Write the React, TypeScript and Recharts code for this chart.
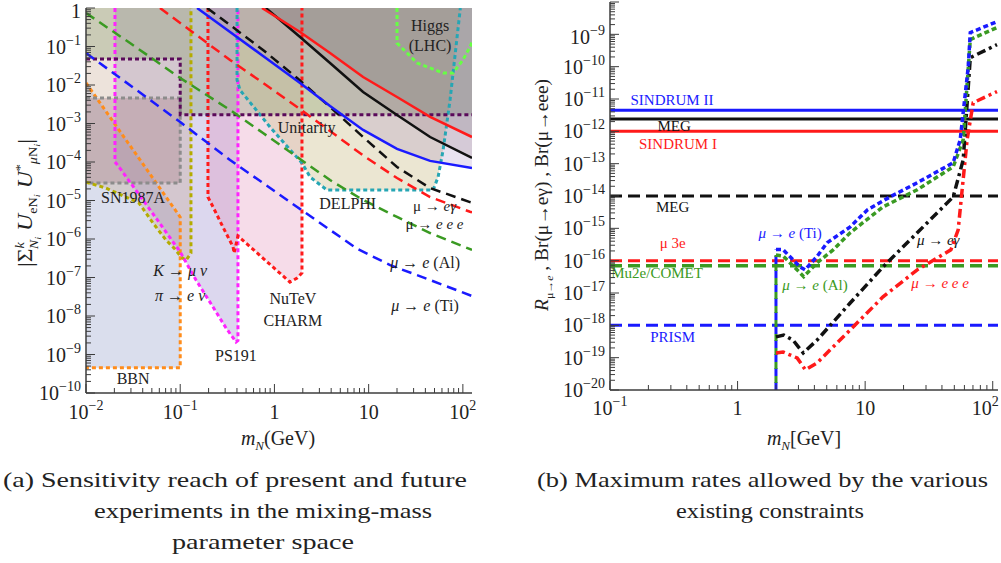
import React from 'react';
import { ComposedChart, Line, Area, XAxis, YAxis, ReferenceLine, Scatter } from 'recharts';

type P = { x: number; y: number };

// ================= Panel (a): mixing vs. mass =================
const bbnEdge: P[] = [{ x: 0.01, y: 0.0113 }, { x: 0.1, y: 3.7e-6 }];
const bbnFloor = 4.5e-10;
const ps191Edge: P[] = [
  { x: 0.0203, y: 1e-4 }, { x: 0.022, y: 7.9e-5 }, { x: 0.0514, y: 4.5e-6 }, { x: 0.1, y: 4.6e-7 },
  { x: 0.147, y: 8.6e-8 }, { x: 0.223, y: 1.71e-8 }, { x: 0.306, y: 4.9e-9 }, { x: 0.391, y: 2.11e-9 },
  { x: 0.41, y: 2.3e-9 },
];
const snX = [0.01, 0.1];
const snY = [2.85e-5, 4.6e-3];
const kpiEdge: P[] = [
  { x: 0.01, y: 3.0e-5 }, { x: 0.0163, y: 2.1e-5 }, { x: 0.0365, y: 8.6e-6 }, { x: 0.0514, y: 2.6e-6 },
  { x: 0.0707, y: 9.4e-7 }, { x: 0.086, y: 5.8e-7 }, { x: 0.1024, y: 3.4e-7 }, { x: 0.115, y: 2.8e-7 },
  { x: 0.13, y: 4.3e-7 },
];
const unitarityEdge: P[] = [{ x: 0.01, y: 0.0473 }, { x: 0.1, y: 0.0473 }, { x: 0.1, y: 0.0017 }, { x: 125, y: 0.0017 }];
const nutevEdge: P[] = [
  { x: 0.197, y: 1.23e-5 }, { x: 0.223, y: 6.8e-6 }, { x: 0.284, y: 2.05e-6 }, { x: 0.364, y: 6.2e-7 },
  { x: 0.373, y: 4.3e-7 }, { x: 0.41, y: 1.2e-6 }, { x: 1.46, y: 7.6e-8 }, { x: 1.74, y: 9.7e-8 },
  { x: 1.96, y: 1.31e-7 },
];
const delphiEdge: P[] = [
  { x: 0.401, y: 0.0135 }, { x: 0.431, y: 7.4e-3 }, { x: 0.898, y: 8.1e-4 }, { x: 1.96, y: 9.4e-5 },
  { x: 2.39, y: 4.07e-5 }, { x: 3.61, y: 1.87e-5 }, { x: 48.3, y: 1.87e-5 }, { x: 54.6, y: 4.07e-5 },
  { x: 61.7, y: 2.05e-4 }, { x: 73.1, y: 4.07e-3 }, { x: 94, y: 1 },
];
const higgsEdge: P[] = [
  { x: 20, y: 1 }, { x: 20, y: 0.123 }, { x: 32.7, y: 0.0373 }, { x: 61.7, y: 0.0205 },
  { x: 78.7, y: 0.0205 }, { x: 100, y: 0.0446 }, { x: 119, y: 0.097 }, { x: 125, y: 0.13 },
];
const blueSolidA: P[] = [
  { x: 0.151, y: 1 }, { x: 0.338, y: 0.238 }, { x: 0.757, y: 0.0567 }, { x: 1.87, y: 0.0113 },
  { x: 3.89, y: 2.84e-3 }, { x: 8.73, y: 6.8e-4 }, { x: 20, y: 2.19e-4 }, { x: 44.9, y: 1.07e-4 }, { x: 125, y: 7.0e-5 },
];
const blackSolidA: P[] = [
  { x: 0.81, y: 1 }, { x: 1.147, y: 0.488 }, { x: 1.87, y: 0.176 }, { x: 3.89, y: 0.0373 },
  { x: 8.73, y: 6.6e-3 }, { x: 20, y: 1.66e-3 }, { x: 44.9, y: 4.46e-4 }, { x: 125, y: 1.27e-4 },
];
const redSolidA: P[] = [
  { x: 0.738, y: 1 }, { x: 1.87, y: 0.238 }, { x: 3.89, y: 0.0678 }, { x: 8.73, y: 0.0161 },
  { x: 20, y: 4.88e-3 }, { x: 44.9, y: 1.48e-3 }, { x: 125, y: 4.46e-4 },
];
const megFutureA: P[] = [
  { x: 0.193, y: 1 }, { x: 0.338, y: 0.361 }, { x: 0.757, y: 0.0812 }, { x: 1.74, y: 0.0152 },
  { x: 3.89, y: 2.68e-3 }, { x: 8.73, y: 4.46e-4 }, { x: 20, y: 7.41e-5 }, { x: 44.9, y: 2.1e-5 },
  { x: 119, y: 9.1e-6 }, { x: 125, y: 8.8e-6 },
];
const mu3eFutureA: P[] = [
  { x: 0.061, y: 1 }, { x: 0.338, y: 0.0446 }, { x: 0.757, y: 0.0113 }, { x: 1.74, y: 2.68e-3 },
  { x: 3.89, y: 6.4e-4 }, { x: 8.73, y: 1.48e-4 }, { x: 20, y: 3.83e-5 }, { x: 44.9, y: 1.23e-5 },
  { x: 119, y: 5.1e-6 }, { x: 125, y: 4.9e-6 },
];
const alFutureA: P[] = [
  { x: 0.01, y: 0.741 }, { x: 0.0293, y: 0.123 }, { x: 0.1, y: 0.0152 }, { x: 0.338, y: 2.24e-3 },
  { x: 0.757, y: 5.66e-4 }, { x: 1.74, y: 1.35e-4 }, { x: 3.89, y: 3.4e-5 }, { x: 8.73, y: 1.03e-5 },
  { x: 20, y: 3.73e-6 }, { x: 44.9, y: 1.43e-6 }, { x: 125, y: 5.2e-7 },
];
const tiFutureA: P[] = [
  { x: 0.01, y: 0.0678 }, { x: 0.1, y: 1.09e-3 }, { x: 0.338, y: 1.13e-4 }, { x: 1.74, y: 6.8e-6 },
  { x: 7.53, y: 5.6e-7 }, { x: 16.9, y: 2.1e-7 }, { x: 44.9, y: 8.6e-8 }, { x: 125, y: 3.3e-8 },
];
const leftNotes = [
  { x: 44.9, y: 0.36, text: 'Higgs' }, { x: 44.9, y: 0.11, text: '(LHC)' },
  { x: 2.2, y: 8.1e-4, text: 'Unitarity' }, { x: 6.0, y: 8.6e-6, text: 'DELPHI' },
  { x: 39.7, y: 2.5e-7, text: '*μ* → *e* (Al)' }, { x: 39.7, y: 1.93e-8, text: '*μ* → *e* (Ti)' },
  { x: 1.57, y: 2.9e-8, text: 'NuTeV' }, { x: 1.57, y: 7.9e-9, text: 'CHARM' },
  { x: 0.39, y: 9.7e-10, text: 'PS191' }, { x: 0.0316, y: 2.45e-10, text: 'BBN' },
  { x: 0.0316, y: 1.23e-5, text: 'SN1987A' },
  { x: 0.1, y: 1.57e-7, text: '*K* → *μ ν*' }, { x: 0.1, y: 3.5e-8, text: '*π* → *e ν*' },
];
const leftNotesSmall = [
  { x: 50, y: 7.2e-6, text: 'μ → *eγ*' }, { x: 50, y: 2.45e-6, text: 'μ → *e e e*' },
];

// ================= Panel (b): maximum rates =================
const sindrum2 = 4.5e-12;
const megNow = 2.4e-12;
const sindrum1 = 1e-12;
const megFuture = 1e-14;
const mu3e = 1e-16;
const mu2e = 7e-17;
const prism = 1e-18;
const thresholdMass = 2;
const tiCurve: P[] = [
  { x: 2, y: 2.2e-16 }, { x: 2.27, y: 2.2e-16 }, { x: 3.09, y: 6.4e-17 }, { x: 3.38, y: 5.2e-17 },
  { x: 4.2, y: 1.36e-16 }, { x: 5.04, y: 3.6e-16 }, { x: 7.63, y: 1.11e-15 }, { x: 10.4, y: 3.7e-15 },
  { x: 15.7, y: 9.4e-15 }, { x: 25.6, y: 2.57e-14 }, { x: 49, y: 1.07e-13 }, { x: 55.6, y: 5.5e-13 },
  { x: 64.3, y: 1e-10 }, { x: 66.7, y: 1.13e-9 }, { x: 108, y: 2.47e-9 },
];
const alCurve: P[] = [
  { x: 2, y: 1.5e-16 }, { x: 2.27, y: 1.4e-16 }, { x: 3.09, y: 4.2e-17 }, { x: 3.3, y: 3.2e-17 },
  { x: 4.2, y: 8.6e-17 }, { x: 5.61, y: 2.16e-16 }, { x: 7.63, y: 7.3e-16 }, { x: 13.8, y: 4.6e-15 },
  { x: 25.6, y: 1.56e-14 }, { x: 49, y: 8.0e-14 }, { x: 58.7, y: 5.5e-13 }, { x: 66.7, y: 6.9e-10 },
  { x: 108, y: 1.63e-9 },
];
const egCurve: P[] = [
  { x: 2, y: 4.4e-19 }, { x: 2.3, y: 5.0e-19 }, { x: 2.72, y: 3.5e-19 }, { x: 3.27, y: 1.4e-19 },
  { x: 4.2, y: 3.5e-19 }, { x: 7.63, y: 4.9e-18 }, { x: 13.8, y: 6.4e-17 }, { x: 25.6, y: 7.3e-16 },
  { x: 49, y: 9.4e-15 }, { x: 58.7, y: 1.32e-13 }, { x: 66.7, y: 1.9e-10 }, { x: 108, y: 4.8e-10 },
];
const eeeCurve: P[] = [
  { x: 2, y: 1.4e-19 }, { x: 2.27, y: 1.5e-19 }, { x: 2.93, y: 9.8e-20 }, { x: 3.4, y: 4.2e-20 },
  { x: 4.2, y: 6.9e-20 }, { x: 7.63, y: 7.2e-19 }, { x: 13.8, y: 7.6e-18 }, { x: 25.6, y: 5.2e-17 },
  { x: 47, y: 2.16e-16 }, { x: 53.6, y: 9e-16 }, { x: 63, y: 5.5e-13 }, { x: 70.3, y: 7.7e-12 },
  { x: 108, y: 1.7e-11 },
];
const blueNotesB = [
  { x: 0.306, y: 9.5e-12, text: 'SINDRUM II' }, { x: 0.31, y: 4.4e-19, text: 'PRISM' },
  { x: 2.58, y: 7.3e-16, text: '*μ* → *e* (Ti)' },
];
const blackNotesB = [
  { x: 0.318, y: 1.5e-12, text: 'MEG' }, { x: 0.31, y: 4.6e-15, text: 'MEG' },
  { x: 37.4, y: 4.4e-16, text: '*μ* → *eγ*' },
];
const redNotesB = [
  { x: 0.341, y: 4.1e-13, text: 'SINDRUM I' }, { x: 0.31, y: 3.6e-16, text: 'μ 3e' },
  { x: 38.7, y: 2.06e-17, text: '*μ* → *e e e*' },
];
const greenNotesB = [
  { x: 0.234, y: 4.2e-17, text: 'Mu2e/COMET' }, { x: 4.05, y: 1.8e-17, text: '*μ* → *e* (Al)' },
];

// ================= helpers =================
const SERIF = '"Liberation Serif", "Times New Roman", serif';
const AXIS = '#3c3c3c';

const logTicks = (lo: number, hi: number) => {
  const out: number[] = [];
  for (let e = lo; e < hi; e++) for (let k = 1; k <= 9; k++) out.push(k * Math.pow(10, e));
  out.push(Math.pow(10, hi));
  return out;
};
const isMajor = (v: number) => Math.abs(Math.log10(v) - Math.round(Math.log10(v))) < 1e-6;
const powText = (v: number) => {
  const e = Math.round(Math.log10(v));
  if (e === 0) return <>1</>;
  if (e === 1) return <>10</>;
  return (
    <>
      10<tspan dy={-9} fontSize={14}>{e < 0 ? '\u2212' + -e : String(e)}</tspan>
    </>
  );
};

const bottomTick = (labelDy: number, endAt?: number) => (p: any) => {
  const v = p.payload.value;
  const M = isMajor(v);
  const atEnd = endAt !== undefined && Math.abs(v - endAt) < 1e-9 * endAt;
  return (
    <g>
      <line x1={p.x} x2={p.x} y1={p.y} y2={p.y - (M ? 9 : 5)} stroke={AXIS} strokeWidth={1} />
      {M && (
        <text x={atEnd ? p.x + 6 : p.x} y={p.y + labelDy} textAnchor={atEnd ? 'end' : 'middle'}
          fontFamily={SERIF} fontSize={20} fill="#222">
          {powText(v)}
        </text>
      )}
    </g>
  );
};
const topTick = (p: any) => {
  const M = isMajor(p.payload.value);
  return <line x1={p.x} x2={p.x} y1={p.y} y2={p.y + (M ? 9 : 5)} stroke={AXIS} strokeWidth={1} />;
};
const leftTick = (maxLabel: number) => (p: any) => {
  const v = p.payload.value;
  const M = isMajor(v);
  const atTop = Math.abs(v - maxLabel) < 1e-6 * maxLabel;
  return (
    <g>
      <line x1={p.x} x2={p.x + (M ? 9 : 5)} y1={p.y} y2={p.y} stroke={AXIS} strokeWidth={1} />
      {M && v <= maxLabel * 1.0001 && (
        <text x={p.x - 5} y={p.y + (atTop ? 10 : 7)} textAnchor="end" fontFamily={SERIF} fontSize={20} fill="#222">
          {powText(v)}
        </text>
      )}
    </g>
  );
};
const rightTick = (p: any) => {
  const M = isMajor(p.payload.value);
  return <line x1={p.x} x2={p.x - (M ? 9 : 5)} y1={p.y} y2={p.y} stroke={AXIS} strokeWidth={1} />;
};

const rich = (s: string) =>
  s.split('*').map((seg, i) => (
    <tspan key={i} fontStyle={i % 2 === 1 ? 'italic' : 'normal'}>
      {seg}
    </tspan>
  ));
const noteShape = (color: string, size: number) => (p: any) => (
  <text x={p.cx} y={p.cy} dy="0.35em" textAnchor="middle" fontFamily={SERIF} fontSize={size} fill={color}>
    {rich(p.payload.text)}
  </text>
);

const above = (edge: P[], top: number) => edge.map((p) => ({ x: p.x, r: [p.y, top] }));
const belowEdge = (edge: P[], floor: number) => edge.map((p) => ({ x: p.x, r: [floor, p.y] }));
const capTop = (edge: P[], top: number) => [{ x: edge[0].x, y: top }, ...edge, { x: edge[edge.length - 1].x, y: top }];

const fillArea = (key: string, data: any[], color: string, opacity: number) => (
  <Area key={key} data={data} dataKey="r" type="linear" stroke="none" fill={color} fillOpacity={opacity}
    dot={false} activeDot={false} isAnimationActive={false} />
);
const pathLine = (key: string, data: P[], color: string, width: number, dash?: string) => (
  <Line key={key} data={data} dataKey="y" type="linear" stroke={color} strokeWidth={width} strokeDasharray={dash}
    dot={false} activeDot={false} isAnimationActive={false} />
);

const DOT = '4 3';
const DASH = '10 6';

// ================= charts =================
function PanelA() {
  const xT = logTicks(-2, 2);
  const yT = logTicks(-10, 0);
  const xd: [number, number] = [0.01, 125];
  const yd: [number, number] = [1e-10, 1];
  const top = 1;
  const snBand = snX.map((x) => ({ x, r: [snY[0], snY[1]] }));
  const snOutline: P[] = [
    { x: snX[0], y: snY[1] }, { x: snX[1], y: snY[1] }, { x: snX[1], y: snY[0] }, { x: snX[0], y: snY[0] },
  ];
  return (
    <ComposedChart width={480} height={442} margin={{ top: 18, right: 8, bottom: 12, left: 0 }}>
      <XAxis dataKey="x" type="number" scale="log" domain={xd} allowDataOverflow ticks={xT} interval={0}
        tickSize={0} tickMargin={0} tickLine={false} height={27} tick={bottomTick(26)}
        axisLine={{ stroke: AXIS, strokeWidth: 1.5 }} />
      <XAxis xAxisId="top" orientation="top" dataKey="x" type="number" scale="log" domain={xd} allowDataOverflow
        ticks={xT} interval={0} tickSize={0} tickMargin={0} tickLine={false} height={0} tick={topTick}
        axisLine={{ stroke: AXIS, strokeWidth: 1.5 }} />
      <YAxis dataKey="y" type="number" scale="log" domain={yd} allowDataOverflow ticks={yT} interval={0}
        tickSize={0} tickMargin={0} tickLine={false} width={86} tick={leftTick(1)}
        axisLine={{ stroke: AXIS, strokeWidth: 1.5 }} />
      <YAxis yAxisId="right" orientation="right" dataKey="y" type="number" scale="log" domain={yd} allowDataOverflow
        ticks={yT} interval={0} tickSize={0} tickMargin={0} tickLine={false} width={0} tick={rightTick}
        axisLine={{ stroke: AXIS, strokeWidth: 1.5 }} />

      {fillArea('bbnF', belowEdge(bbnEdge, bbnFloor), '#b6bedc', 0.5)}
      {fillArea('psF', above(ps191Edge, top), '#a89cd4', 0.4)}
      {fillArea('snF', snBand, '#9a6a86', 0.33)}
      {fillArea('kpiF', above(kpiEdge, top), '#c3a287', 0.3)}
      {fillArea('nuF', above(nutevEdge, top), '#e08cb6', 0.3)}
      {fillArea('delF', above(delphiEdge, top), '#d2c89c', 0.45)}
      {fillArea('uniF', above(unitarityEdge, top), '#7b9661', 0.3)}
      {fillArea('blueF', above(blueSolidA, top), '#9c7cbc', 0.22)}
      {fillArea('blackF', above(blackSolidA, top), '#7c5c6c', 0.18)}
      {fillArea('redF', above(redSolidA, top), '#6c6c6c', 0.2)}

      {pathLine('bbnL', [...bbnEdge, { x: 0.1, y: bbnFloor }, { x: 0.01, y: bbnFloor }], '#ff8c1a', 3, DOT)}
      {pathLine('snL', snOutline, '#8c8c8c', 3, DOT)}
      {pathLine('kpiL', [...kpiEdge, { x: kpiEdge[kpiEdge.length - 1].x, y: top }], '#b4ac00', 3, DOT)}
      {pathLine('psL', capTop(ps191Edge, top), '#ff22ff', 3, DOT)}
      {pathLine('nuL', capTop(nutevEdge, top), '#ff1a1a', 3, DOT)}
      {pathLine('delL', [{ x: delphiEdge[0].x, y: top }, ...delphiEdge], '#26a6b4', 3, DOT)}
      {pathLine('uniL', unitarityEdge, '#5a0a5a', 3, DOT)}
      {pathLine('higgsL', higgsEdge, '#66ff44', 3, DOT)}

      {pathLine('alL', alFutureA, '#3a9a22', 2.5, DASH)}
      {pathLine('tiL', tiFutureA, '#1a1aff', 2.5, DASH)}
      {pathLine('m3L', mu3eFutureA, '#ff1a1a', 2.5, DASH)}
      {pathLine('megFL', megFutureA, '#111', 2.5, DASH)}
      {pathLine('blueS', blueSolidA, '#1a1aff', 2.5)}
      {pathLine('blackS', blackSolidA, '#111', 2.5)}
      {pathLine('redS', redSolidA, '#ff1a1a', 2.5)}

      <Scatter data={leftNotes} dataKey="y" shape={noteShape('#222', 16)} isAnimationActive={false} />
      <Scatter data={leftNotesSmall} dataKey="y" shape={noteShape('#222', 15)} isAnimationActive={false} />
    </ComposedChart>
  );
}

function PanelB() {
  const xT = logTicks(-1, 2);
  const yT = logTicks(-20, -8);
  const xd: [number, number] = [0.1, 110];
  const yd: [number, number] = [1e-20, 1e-8];
  const floor = 1e-20;
  return (
    <ComposedChart width={481} height={442} margin={{ top: 12, right: 3, bottom: 12, left: 0 }}>
      <XAxis dataKey="x" type="number" scale="log" domain={xd} allowDataOverflow ticks={xT} interval={0}
        tickSize={0} tickMargin={0} tickLine={false} height={30} tick={bottomTick(25, 100)}
        axisLine={{ stroke: AXIS, strokeWidth: 1.5 }} />
      <XAxis xAxisId="top" orientation="top" dataKey="x" type="number" scale="log" domain={xd} allowDataOverflow
        ticks={xT} interval={0} tickSize={0} tickMargin={0} tickLine={false} height={0} tick={topTick}
        axisLine={{ stroke: AXIS, strokeWidth: 1.5 }} />
      <YAxis dataKey="y" type="number" scale="log" domain={yd} allowDataOverflow ticks={yT} interval={0}
        tickSize={0} tickMargin={0} tickLine={false} width={90} tick={leftTick(1e-9)}
        axisLine={{ stroke: AXIS, strokeWidth: 1.5 }} />
      <YAxis yAxisId="right" orientation="right" dataKey="y" type="number" scale="log" domain={yd} allowDataOverflow
        ticks={yT} interval={0} tickSize={0} tickMargin={0} tickLine={false} width={0} tick={rightTick}
        axisLine={{ stroke: AXIS, strokeWidth: 1.5 }} />

      <ReferenceLine y={prism} stroke="#1a1aff" strokeWidth={3} strokeDasharray="12 6" />
      <ReferenceLine y={mu2e} stroke="#3a9a22" strokeWidth={3.5} strokeDasharray="12 6" />
      <ReferenceLine y={mu3e} stroke="#ff1a1a" strokeWidth={3} strokeDasharray="12 6" />
      <ReferenceLine y={megFuture} stroke="#111" strokeWidth={3} strokeDasharray="12 6" />
      <ReferenceLine y={sindrum1} stroke="#ff1a1a" strokeWidth={3} />
      <ReferenceLine y={megNow} stroke="#111" strokeWidth={3} />
      <ReferenceLine y={sindrum2} stroke="#1a1aff" strokeWidth={3} />

      {pathLine('vB', [{ x: thresholdMass, y: floor }, { x: thresholdMass, y: tiCurve[0].y }], '#1a1aff', 3, '8 6')}
      {pathLine('vG', [{ x: thresholdMass, y: floor }, { x: thresholdMass, y: alCurve[0].y }], '#3a9a22', 3, '0 7 7 0')}
      {pathLine('eee', eeeCurve, '#ff1a1a', 3.5, '9 4 3 4')}
      {pathLine('eg', egCurve, '#111', 3.5, '9 4 3 4')}
      {pathLine('al', alCurve, '#3a9a22', 3.5, '5 3')}
      {pathLine('ti', tiCurve, '#1a1aff', 3.5, '5 3')}

      <Scatter data={blueNotesB} dataKey="y" shape={noteShape('#1a1aff', 15)} isAnimationActive={false} />
      <Scatter data={blackNotesB} dataKey="y" shape={noteShape('#111', 15)} isAnimationActive={false} />
      <Scatter data={redNotesB} dataKey="y" shape={noteShape('#ff1a1a', 15)} isAnimationActive={false} />
      <Scatter data={greenNotesB} dataKey="y" shape={noteShape('#3a9a22', 15)} isAnimationActive={false} />
    </ComposedChart>
  );
}

function Overlay() {
  const cap = { fontSize: 22, fill: '#222', lengthAdjust: 'spacingAndGlyphs' as const };
  return (
    <svg width={1001} height={563} style={{ position: 'absolute', left: 0, top: 0, pointerEvents: 'none' }}
      fontFamily={SERIF}>
      <text transform="translate(32,203) rotate(-90)" textAnchor="middle" fontSize={20} fill="#222"
        textLength={128} lengthAdjust="spacingAndGlyphs">
        |Σ<tspan dy={-8} fontSize={12} fontStyle="italic">k</tspan>
        <tspan dx={-6} dy={14} fontSize={12} fontStyle="italic">N</tspan>
        <tspan dy={3} fontSize={9} fontStyle="italic">i</tspan>
        <tspan dy={-9} fontSize={20} fontStyle="italic"> U</tspan>
        <tspan dy={5} fontSize={12}>eN</tspan>
        <tspan dy={3} fontSize={9} fontStyle="italic">i</tspan>
        <tspan dy={-8} fontSize={20} fontStyle="italic"> U</tspan>
        <tspan dy={-8} fontSize={12}>*</tspan>
        <tspan dy={13} fontSize={12} fontStyle="italic">μ</tspan>
        <tspan fontSize={12}>N</tspan>
        <tspan dy={3} fontSize={9} fontStyle="italic">i</tspan>
        <tspan dy={-8} fontSize={20}>|</tspan>
      </text>
      <text x={278} y={445} textAnchor="middle" fontSize={20} fill="#222">
        <tspan fontStyle="italic">m</tspan>
        <tspan dy={5} fontSize={13} fontStyle="italic">N</tspan>
        <tspan dy={-5}>(GeV)</tspan>
      </text>

      <text transform="translate(548,195) rotate(-90)" textAnchor="middle" fontSize={18} fill="#222"
        textLength={232} lengthAdjust="spacingAndGlyphs">
        <tspan fontStyle="italic">R</tspan>
        <tspan dy={5} fontSize={11}>μ→</tspan>
        <tspan fontSize={11} fontStyle="italic">e</tspan>
        <tspan dy={-5}> , Br(μ→eγ) , Br(μ→eee)</tspan>
      </text>
      <text x={804} y={445} textAnchor="middle" fontSize={20} fill="#222">
        <tspan fontStyle="italic">m</tspan>
        <tspan dy={5} fontSize={13} fontStyle="italic">N</tspan>
        <tspan dy={-5}>[GeV]</tspan>
      </text>

      <text x={3} y={487} textLength={464} {...cap}>(a)  Sensitivity reach of present and future</text>
      <text x={94} y={518} textLength={338} {...cap}>experiments in the mixing-mass</text>
      <text x={172} y={549} textLength={182} {...cap}>parameter space</text>
      <text x={537} y={487} textLength={451} {...cap}>(b)  Maximum rates allowed by the various</text>
      <text x={676} y={518} textLength={188} {...cap}>existing constraints</text>
    </svg>
  );
}

export default function App() {
  return (
    <div style={{ position: 'absolute', left: 0, top: 0, width: 1001, height: 563, background: '#fff', overflow: 'hidden' }}>
      <div style={{ position: 'absolute', left: 0, top: -10 }}>
        <PanelA />
      </div>
      <div style={{ position: 'absolute', left: 520, top: -10 }}>
        <PanelB />
      </div>
      <Overlay />
    </div>
  );
}
